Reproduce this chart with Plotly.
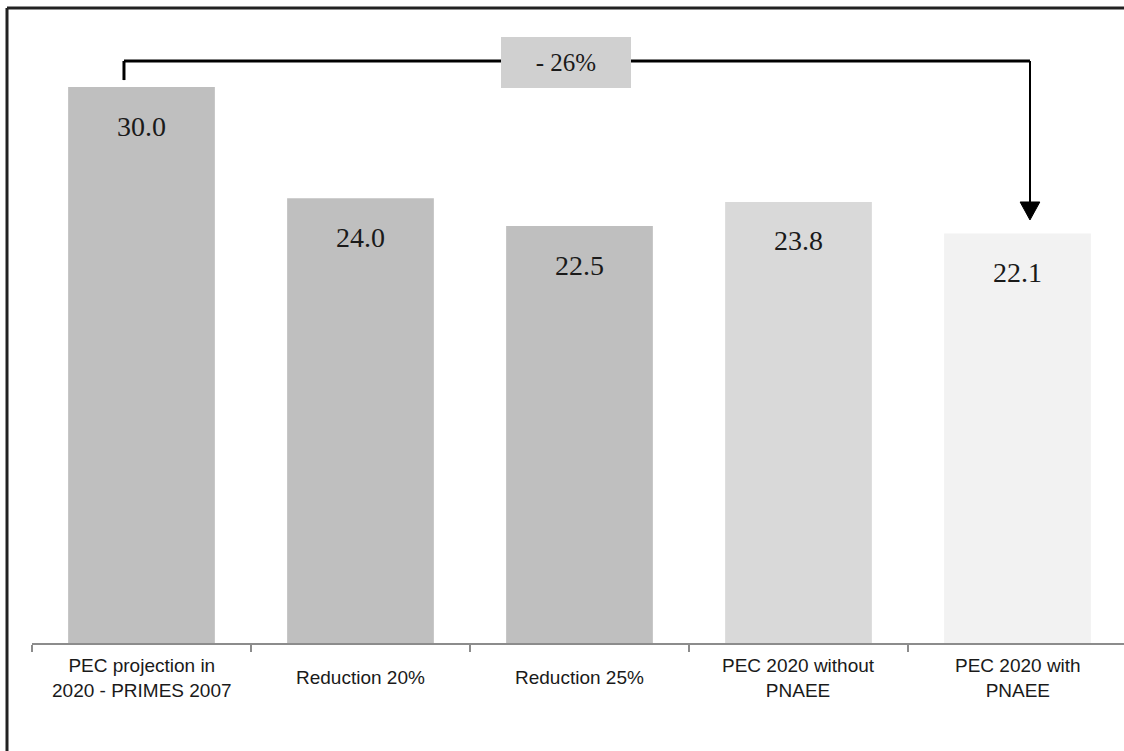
import plotly.graph_objects as go

# Primary energy consumption scenarios for 2020 (Mtoe)
categories = [
    "PEC projection in<br>2020 - PRIMES 2007",
    "Reduction 20%",
    "Reduction 25%",
    "PEC 2020 without<br>PNAEE",
    "PEC 2020 with<br>PNAEE",
]
values = [30.0, 24.0, 22.5, 23.8, 22.1]
bar_colors = ["#bfbfbf", "#bfbfbf", "#bfbfbf", "#d9d9d9", "#f2f2f2"]
change_label = "- 26%"

W, H = 1124, 751
ML, MR, MT, MB = 32, 0, 8, 108
plot_h = H - MT - MB
px_per_unit = 18.53
y_max = plot_h / px_per_unit
cat_w = 219.0
x_lo = -0.5
x_hi = x_lo + (W - ML - MR) / cat_w

xs = list(range(len(values)))

fig = go.Figure()
fig.add_trace(go.Bar(
    x=xs, y=values, width=0.67,
    marker=dict(color=bar_colors, line=dict(width=0)),
    hoverinfo="skip", showlegend=False,
))

annotations = []
# value labels just inside the top of each bar
for x, v in zip(xs, values):
    annotations.append(dict(
        x=x, y=v, xref="x", yref="y", text=f"{v:.1f}", showarrow=False,
        yanchor="middle", yshift=-39,
        font=dict(family="Liberation Serif", size=28, color="#1a1a1a"),
    ))

# category labels, vertically centred under the axis
for x, c in zip(xs, categories):
    annotations.append(dict(
        x=x, y=-(35 / plot_h), xref="x", yref="paper", text=c, showarrow=False,
        yanchor="middle", xanchor="center",
        font=dict(family="Liberation Sans", size=19, color="#1a1a1a"),
    ))

# bracket from first scenario to last, with the overall change in a box
first, last = values[0], values[-1]
bracket_y = first + 1.41
x_left, x_right = xs[0] - 0.08, xs[-1] + 0.057
head_top = last + 1.7
head_tip = last + 0.73
head_half = 0.045

shapes = [
    dict(type="line", xref="x", yref="y", x0=x_left, x1=x_left,
         y0=first + 0.38, y1=bracket_y, line=dict(color="black", width=3)),
    dict(type="line", xref="x", yref="y", x0=x_left, x1=x_right,
         y0=bracket_y, y1=bracket_y, line=dict(color="black", width=3)),
    dict(type="line", xref="x", yref="y", x0=x_right, x1=x_right,
         y0=bracket_y, y1=head_top, line=dict(color="black", width=2)),
    dict(type="path", xref="x", yref="y",
         path=f"M {x_right - head_half} {head_top} L {x_right + head_half} {head_top} "
              f"L {x_right} {head_tip} Z",
         fillcolor="black", line=dict(color="black", width=1)),
    # outer frame (top and left edges)
    dict(type="line", xref="paper", yref="paper",
         x0=-(ML - 7) / (W - ML), x1=1.01, y0=1, y1=1,
         line=dict(color="#222222", width=3)),
    dict(type="line", xref="paper", yref="paper",
         x0=-(ML - 7) / (W - ML), x1=-(ML - 7) / (W - ML),
         y0=1, y1=-(MB + 5) / plot_h, line=dict(color="#222222", width=3)),
]

annotations.append(dict(
    x=1.94, y=bracket_y - 0.08, xref="x", yref="y", text=change_label,
    showarrow=False, bgcolor="#d0d0d0", width=130, height=51,
    borderpad=0, borderwidth=0,
    font=dict(family="Liberation Serif", size=25, color="#1a1a1a"),
))

fig.update_layout(
    width=W, height=H,
    margin=dict(l=ML, r=MR, t=MT, b=MB),
    paper_bgcolor="white", plot_bgcolor="white",
    bargap=0.33,
    xaxis=dict(
        range=[x_lo, x_hi], showgrid=False, zeroline=False,
        showline=True, linecolor="#8c8c8c", linewidth=2,
        tickmode="array", tickvals=[i - 0.5 for i in range(len(values))],
        ticks="outside", ticklen=7, tickcolor="#8c8c8c", tickwidth=1.5,
        showticklabels=False, fixedrange=True,
    ),
    yaxis=dict(range=[0, y_max], visible=False, fixedrange=True),
    shapes=shapes,
    annotations=annotations,
)

fig.write_html("out.html", config={"displayModeBar": False})
